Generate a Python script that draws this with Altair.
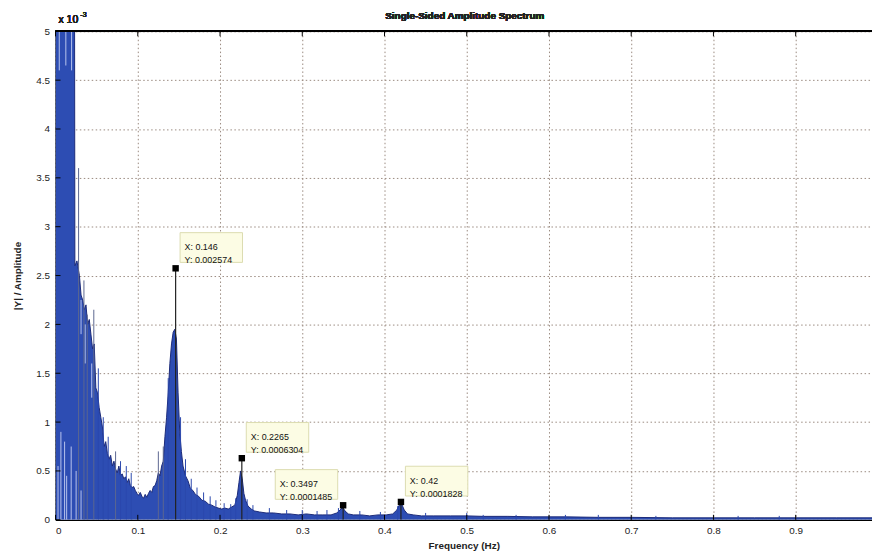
import altair as alt
import pandas as pd

# ---- data (amplitudes in units of 1e-3) ----
env_f = [0, 0.004, 0.008, 0.012, 0.016, 0.020, 0.023, 0.0235, 0.026, 0.029, 0.031, 0.033, 0.035, 0.037,
         0.039, 0.041, 0.043, 0.045, 0.047, 0.049, 0.051, 0.053, 0.055, 0.057, 0.059, 0.061, 0.063, 0.065,
         0.067, 0.069, 0.071, 0.073, 0.075, 0.077, 0.079, 0.081, 0.083, 0.085, 0.087, 0.089, 0.091, 0.093,
         0.095, 0.097, 0.099, 0.101, 0.103, 0.105, 0.107, 0.109, 0.111, 0.113, 0.115, 0.117, 0.119, 0.121,
         0.123, 0.125, 0.127, 0.129, 0.131, 0.133, 0.135, 0.137, 0.139, 0.141, 0.143, 0.145, 0.147, 0.149,
         0.151, 0.153, 0.155, 0.158, 0.161, 0.164, 0.167, 0.170, 0.174, 0.178, 0.182, 0.186, 0.190, 0.194,
         0.198, 0.202, 0.206, 0.210, 0.214, 0.218, 0.221, 0.223, 0.225, 0.227, 0.229, 0.231, 0.234, 0.238,
         0.242, 0.248, 0.256, 0.265, 0.275, 0.285, 0.295, 0.305, 0.315, 0.325, 0.335, 0.342, 0.346, 0.349,
         0.352, 0.356, 0.362, 0.372, 0.382, 0.392, 0.402, 0.410, 0.415, 0.418, 0.421, 0.424, 0.428, 0.435,
         0.445, 0.46, 0.48, 0.5, 0.52, 0.55, 0.58, 0.62, 0.66, 0.70, 0.75, 0.80, 0.85, 0.90, 0.95, 0.993]
env_a = [6, 6, 6, 6, 6, 6, 6, 2.6, 2.65, 2.5, 2.3, 2.25, 2.15, 2.2,
         2.0, 2.05, 1.9, 1.75, 1.8, 1.35, 1.3, 1.15, 1.05, 0.95, 0.75, 0.8, 0.68, 0.62,
         0.66, 0.55, 0.6, 0.52, 0.48, 0.55, 0.45, 0.47, 0.42, 0.44, 0.38, 0.42, 0.35, 0.33,
         0.34, 0.3, 0.27, 0.25, 0.28, 0.24, 0.22, 0.26, 0.23, 0.27, 0.3, 0.28, 0.34, 0.35,
         0.4, 0.48, 0.45, 0.55, 0.6, 0.85, 1.05, 1.3, 1.6, 1.8, 1.92, 1.95, 1.85, 1.3,
         0.9, 0.7, 0.55, 0.45, 0.4, 0.32, 0.3, 0.26, 0.24, 0.2, 0.19, 0.16, 0.15, 0.13,
         0.12, 0.11, 0.12, 0.11, 0.13, 0.15, 0.25, 0.38, 0.5, 0.42, 0.27, 0.2, 0.14, 0.11,
         0.09, 0.08, 0.07, 0.07, 0.06, 0.06, 0.05, 0.06, 0.05, 0.05, 0.05, 0.07, 0.1, 0.13,
         0.09, 0.06, 0.05, 0.05, 0.04, 0.05, 0.05, 0.06, 0.1, 0.15, 0.16, 0.1, 0.06, 0.05,
         0.04, 0.04, 0.04, 0.04, 0.035, 0.035, 0.03, 0.03, 0.025, 0.025, 0.02, 0.02, 0.02, 0.02, 0.02, 0.02]

# narrow spikes sticking out of the dense spectrum ("g" = grey, "b" = blue)
spike_f = [0.028, 0.0345, 0.0385, 0.0465, 0.052, 0.058, 0.064, 0.073, 0.079, 0.086, 0.092, 0.125, 0.131,
           0.137, 0.152, 0.158, 0.165, 0.172, 0.180, 0.188, 0.195, 0.205, 0.213, 0.219, 0.233, 0.24, 0.26,
           0.281, 0.30, 0.318, 0.33, 0.344, 0.37, 0.395, 0.416, 0.45, 0.5, 0.52, 0.56, 0.62, 0.66, 0.73, 0.83, 0.88]
spike_a = [3.6, 2.45, 2.1, 2.15, 1.55, 1.05, 0.85, 0.7, 0.6, 0.55, 0.48, 0.7, 0.75,
           1.45, 1.05, 0.62, 0.42, 0.33, 0.28, 0.24, 0.2, 0.17, 0.16, 0.22, 0.21, 0.15, 0.12,
           0.1, 0.1, 0.09, 0.1, 0.12, 0.09, 0.08, 0.14, 0.07, 0.07, 0.05, 0.05, 0.05, 0.05, 0.04, 0.04, 0.04]
spike_k = ["g", "g", "g", "g", "b", "b", "b", "g", "b", "b", "b", "g", "g",
           "b", "b", "b", "b", "b", "b", "b", "b", "b", "b", "b", "b", "b", "b",
           "b", "b", "b", "b", "b", "b", "b", "b", "b", "b", "b", "b", "b", "b", "b", "b", "b"]

# light gaps inside the dense low-frequency fill: frequency, lower and upper amplitude
gap_f = [0.003, 0.0065, 0.011, 0.0135, 0.019, 0.025, 0.031, 0.0045, 0.0125, 0.0195, 0.031, 0.036, 0.044]
gap_lo = [0, 0, 0, 0, 0, 0, 0, 4.6, 4.65, 4.6, 1.9, 1.6, 1.25]
gap_hi = [0.55, 0.9, 0.8, 0.45, 0.75, 0.5, 0.3, 5, 5, 5, 2.25, 2.0, 1.6]

tip_f = [0.146, 0.2265, 0.3497, 0.42]
tip_a = [2.574, 0.6304, 0.1485, 0.1828]
tip_text = ["X: 0.146\nY: 0.002574", "X: 0.2265\nY: 0.0006304",
            "X: 0.3497\nY: 0.0001485", "X: 0.42\nY: 0.0001828"]
tip_side = ["right", "right", "left", "right"]

x_ticks = [0, 0.1, 0.2, 0.3, 0.4, 0.5, 0.6, 0.7, 0.8, 0.9]
y_ticks = [0, 0.5, 1, 1.5, 2, 2.5, 3, 3.5, 4, 4.5, 5]

W, H = 824, 493
XMAX = 0.9928
FONT = "Liberation Sans"
BLUE = "#2d4db3"
NAVY = "#1c2a78"

env = pd.DataFrame({"f": env_f, "a": env_a})
spikes = pd.DataFrame({"f": spike_f, "a": spike_a, "k": spike_k})
gaps = pd.DataFrame({"f": gap_f, "lo": gap_lo, "hi": gap_hi})
tips = pd.DataFrame({"f": tip_f, "a": tip_a, "t": tip_text, "side": tip_side})
xt = pd.DataFrame({"v": x_ticks})
yt = pd.DataFrame({"v": y_ticks})

xscale = alt.Scale(domain=[0, XMAX], nice=False, zero=False)
yscale = alt.Scale(domain=[0, 5], nice=False)

X = alt.X("f:Q", scale=xscale, axis=alt.Axis(
    values=x_ticks, format="~g", title="Frequency (Hz)", grid=True,
    gridColor="#9a8a80", gridDash=[1.5, 2.5], gridWidth=1,
    domainColor="#000", domainWidth=1.2, tickSize=0, labelPadding=6,
    labelFont=FONT, labelFontSize=10, labelColor="#222",
    titleFont=FONT, titleFontSize=10, titleFontWeight="bold", titleColor="#222", titlePadding=5))
Y = alt.Y("a:Q", scale=yscale, axis=alt.Axis(
    values=y_ticks, format="~g", title="|Y| / Amplitude", grid=True,
    gridColor="#9a8a80", gridDash=[1.5, 2.5], gridWidth=1,
    domainColor="#000", domainWidth=1.2, tickSize=0, labelPadding=6,
    labelFont=FONT, labelFontSize=10, labelColor="#222",
    titleFont=FONT, titleFontSize=10, titleFontWeight="bold", titleColor="#222", titlePadding=13))

XS = alt.X("f:Q", scale=xscale)
YS = alt.Y("a:Q", scale=yscale)

area = alt.Chart(env).mark_area(color=BLUE, clip=True, opacity=1).encode(x=X, y=Y)
edge = alt.Chart(env).mark_line(color=NAVY, strokeWidth=1, clip=True).encode(x=XS, y=YS)
sp = alt.Chart(spikes).mark_rule(strokeWidth=1, clip=True).encode(
    x=XS, y=YS, y2=alt.datum(0),
    color=alt.Color("k:N", scale=alt.Scale(domain=["g", "b"], range=["#5c6690", "#2a48ad"]), legend=None))
gp = alt.Chart(gaps).mark_rule(color="#b9c4ee", strokeWidth=1, clip=True).encode(
    x=XS, y=alt.Y("lo:Q", scale=yscale), y2="hi:Q")
tipline = alt.Chart(tips).mark_rule(color="#222", strokeWidth=1.2, clip=True).encode(
    x=XS, y=YS, y2=alt.datum(0))
markers = alt.Chart(tips).mark_square(color="#000", size=42, opacity=1).encode(x=XS, y=YS)


def box(side, dx):
    base = alt.Chart(tips).transform_filter(alt.datum.side == side)
    r = base.mark_rect(width=63, height=30, xOffset=dx, yOffset=-21, fill="#fcfce4",
                       stroke="#dcdcb0", strokeWidth=1).encode(x=XS, y=YS)
    t = base.mark_text(align="left", baseline="middle", dx=dx - 27, dy=-21, font=FONT,
                       fontSize=9, lineHeight=13, lineBreak="\n", color="#111").encode(
        x=XS, y=YS, text="t:N")
    return r + t


# inward ticks and top frame line
bt = alt.Chart(xt).mark_rule(color="#000", strokeWidth=1).encode(
    x=alt.X("v:Q", scale=xscale), y=alt.value(H), y2=alt.value(H - 5))
tt = alt.Chart(xt).mark_rule(color="#000", strokeWidth=1).encode(
    x=alt.X("v:Q", scale=xscale), y=alt.value(0), y2=alt.value(5))
lt = alt.Chart(yt).mark_rule(color="#000", strokeWidth=1).encode(
    y=alt.Y("v:Q", scale=yscale), x=alt.value(0), x2=alt.value(5))
top = alt.Chart(xt).mark_rule(color="#000", strokeWidth=1.4).encode(
    x=alt.value(0), x2=alt.value(W), y=alt.value(0))

title = alt.Chart(xt).mark_text(text="Single-Sided Amplitude Spectrum", align="center", baseline="middle",
                                font=FONT, fontSize=10, fontWeight="bold", color="#222").encode(
    x=alt.value(413), y=alt.value(-15))
exp1 = alt.Chart(xt).mark_text(text="x 10", align="left", baseline="middle", font=FONT,
                               fontSize=10.5, color="#222").encode(x=alt.value(3), y=alt.value(-11))
exp2 = alt.Chart(xt).mark_text(text="-3", align="left", baseline="middle", font=FONT,
                               fontSize=7, color="#222").encode(x=alt.value(25), y=alt.value(-16))

chart = alt.layer(area, gp, edge, sp, tipline, bt, tt, lt, top, markers,
                  box("right", 36), box("left", -37), title, exp1, exp2).properties(
    width=W, height=H,
    autosize=alt.AutoSizeParams(type="none"),
    padding={"left": 48, "top": 21, "right": 0, "bottom": 32},
).configure_view(stroke=None).configure(background="white")

chart.save("out.html", embed_options={"renderer": "svg", "actions": False})
